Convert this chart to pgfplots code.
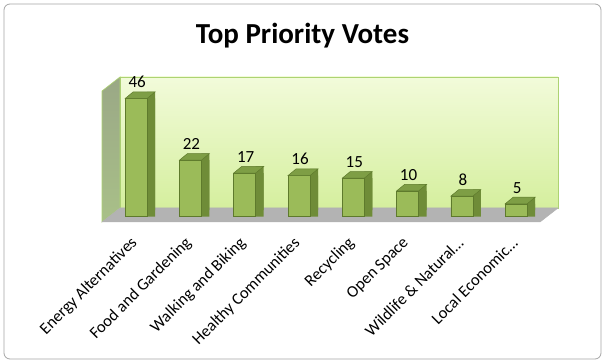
\documentclass[border=0pt]{standalone}
\usepackage{fontspec}
\setmainfont{Carlito}
\usepackage{pgfplots}
\usepackage{pgfplotstable}
\pgfplotsset{compat=1.18}

\definecolor{barfront}{HTML}{9BBB59}
\definecolor{barside}{HTML}{6F8C38}
\definecolor{bartop}{HTML}{7E9E45}
\definecolor{baredge}{HTML}{5E7A2C}
\definecolor{walltop}{HTML}{F2FBDA}
\definecolor{wallbot}{HTML}{D5EF9E}
\definecolor{walledge}{HTML}{ADD372}
\definecolor{sidetop}{HTML}{9AA886}
\definecolor{sidebot}{HTML}{A9C088}
\definecolor{floorc}{HTML}{B3B3B3}
\definecolor{frame}{HTML}{A6A6A6}

\pgfdeclareplotmark{topface}{%
  \pgfpathmoveto{\pgfqpoint{-11pt}{0pt}}%
  \pgfpathlineto{\pgfqpoint{11pt}{0pt}}%
  \pgfpathlineto{\pgfqpoint{19pt}{6.6pt}}%
  \pgfpathlineto{\pgfqpoint{-3pt}{6.6pt}}%
  \pgfpathclose
  \pgfusepathqfillstroke}

\pgfplotstableread{
x v
0 46
1 22
2 17
3 16
4 15
5 10
6 8
7 5
}\votes

\begin{document}
\begin{tikzpicture}[x=1pt,y=1pt]
\fill[white] (0,0) rectangle (606,364);
\draw[frame, line width=0.8pt, rounded corners=6pt, fill=white] (4,5) rectangle (601,360);
% back wall
\shade[top color=walltop, bottom color=wallbot] (120,156) rectangle (558,287);
\draw[walledge, line width=0.8pt] (120,156) rectangle (558,287);
% side wall
\shade[top color=sidetop, bottom color=sidebot] (102,142) -- (102,273) -- (120,287) -- (120,156) -- cycle;
\draw[walledge, line width=0.6pt] (102,142) -- (102,273) -- (120,287) -- (120,156) -- cycle;
% floor
\fill[floorc] (102,142) -- (120,156) -- (558,156) -- (540,142) -- cycle;
\draw[gray!60, line width=0.5pt] (102,142) -- (120,156) -- (558,156) -- (540,142) -- cycle;
% title
\node[anchor=base, font=\fontsize{29}{34}\selectfont\bfseries] at (302.5,320.7) {Top Priority Votes};

\begin{axis}[
  at={(102pt,142pt)}, anchor=south west,
  scale only axis, width=438pt, height=131pt,
  xmin=-0.63, xmax=7.44, ymin=-2.06, ymax=48.9,
  clip=false,
  axis line style={draw=none},
  ytick=\empty,
  xtick={0,1,2,3,4,5,6,7},
  xticklabels={{Energy Alternatives}, {Food and Gardening}, {Walking and Biking}, {Healthy Communities}, {Recycling}, {Open Space}, {Wildlife \& Natural\ldots}, {Local Economic\ldots}},
  major tick length=0pt,
  xticklabel style={font=\fontsize{16.5}{19}\selectfont, yshift=-16pt, xshift=1pt, rotate=45, anchor=east},
  /pgf/number format/assume math mode=true,
]
\addplot[ybar, bar width=8pt, bar shift=15pt, fill=barside, draw=none] table[x=x,y=v]{\votes};
\addplot[ybar, bar width=8pt, bar shift=15pt, fill=barside, draw=none, yshift=6.6pt] table[x=x,y=v]{\votes};
\addplot[ybar, bar width=22pt, bar shift=0pt, fill=barfront, draw=baredge, line width=0.5pt,
  nodes near coords,
  nodes near coords style={font=\fontsize{17}{20}\selectfont, anchor=south, yshift=7pt, xshift=1pt, text=black}]
  table[x=x,y=v]{\votes};
\addplot[only marks, mark=topface, mark options={fill=bartop, draw=baredge, line width=0.5pt}] table[x=x,y=v]{\votes};
\end{axis}
\end{tikzpicture}
\end{document}
